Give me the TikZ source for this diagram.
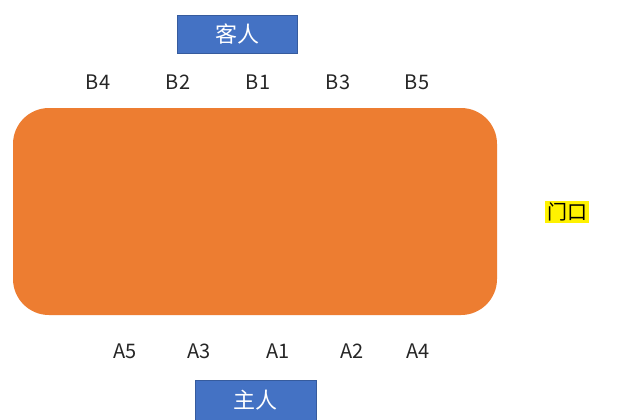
\documentclass[tikz,border=0pt]{standalone}
\usepackage{fontspec}
\setmainfont{Noto Sans CJK SC}
\definecolor{tblorange}{HTML}{ED7D31}
\definecolor{boxblue}{HTML}{4472C4}
\begin{document}
\begin{tikzpicture}[x=1pt,y=-1pt,
  seat/.style={font=\fontsize{20}{20}\selectfont, text=black!85, inner sep=0pt},
  rolebox/.style={fill=boxblue, draw=boxblue!80!black, line width=0.6pt, text=white, font=\fontsize{22}{22}\selectfont, inner sep=0pt},
  doorlbl/.style={fill=yellow, font=\fontsize{20}{20}\selectfont, inner xsep=2pt, inner ysep=1.5pt}]
\useasboundingbox[fill=white] (0,0) rectangle (640,420);
\fill[tblorange, rounded corners=36pt] (13,108) rectangle (497,315);
\node (tbl) at (255,211) {};
\node[rolebox, minimum width=120pt, minimum height=38pt] (guest) at (237,34) {客人};
\node[rolebox, minimum width=121pt, minimum height=40pt] (host) at (255.5,400) {主人};
\foreach \n/\x in {B4/98,B2/178,B1/258,B3/338,B5/417}
  \node[seat] (\n) at (\x,82) {\n};
\foreach \n/\x in {A5/125,A3/199,A1/278,A2/352,A4/418}
  \node[seat] (\n) at (\x,351) {\n};
\node[doorlbl] (door) at (567,212) {门口};
\end{tikzpicture}
\end{document}
